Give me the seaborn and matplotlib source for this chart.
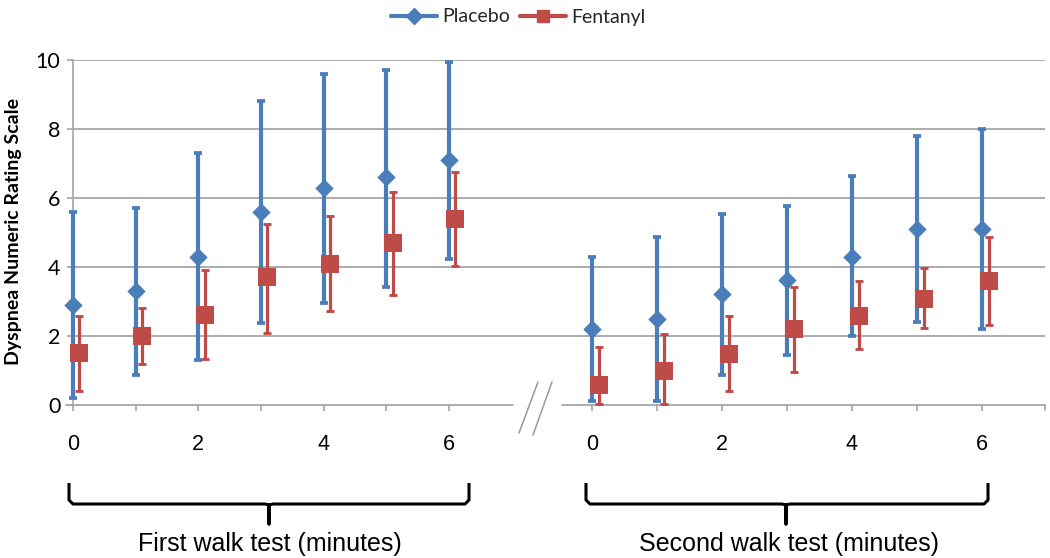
import matplotlib
matplotlib.use("Agg")
import matplotlib.pyplot as plt
import seaborn as sns
import numpy as np
from matplotlib.lines import Line2D

# ---------------- data ----------------
minutes = [0, 1, 2, 3, 4, 5, 6]
tick_labels = ["0", "", "2", "", "4", "", "6"]
y_ticks = [0, 2, 4, 6, 8, 10]
series_names = ["Placebo", "Fentanyl"]
group_labels = ["First walk test (minutes)", "Second walk test (minutes)"]
y_label = "Dyspnea Numeric Rating Scale"

placebo_first_mean = [2.9, 3.3, 4.3, 5.6, 6.3, 6.6, 7.1]
placebo_first_low = [0.2, 0.87, 1.3, 2.37, 2.97, 3.43, 4.23]
placebo_first_high = [5.6, 5.7, 7.3, 8.8, 9.6, 9.72, 9.95]
fentanyl_first_mean = [1.5, 2.0, 2.6, 3.72, 4.1, 4.69, 5.38]
fentanyl_first_low = [0.42, 1.19, 1.32, 2.1, 2.72, 3.19, 4.03]
fentanyl_first_high = [2.58, 2.82, 3.9, 5.26, 5.49, 6.18, 6.74]

placebo_second_mean = [2.2, 2.5, 3.22, 3.62, 4.3, 5.1, 5.1]
placebo_second_low = [0.12, 0.12, 0.87, 1.45, 2.0, 2.42, 2.19]
placebo_second_high = [4.3, 4.86, 5.53, 5.77, 6.64, 7.81, 7.99]
fentanyl_second_mean = [0.58, 0.99, 1.48, 2.19, 2.58, 3.08, 3.6]
fentanyl_second_low = [0.03, 0.03, 0.42, 0.97, 1.61, 2.22, 2.32]
fentanyl_second_high = [1.69, 2.06, 2.58, 3.43, 3.58, 3.96, 4.86]

# ---------------- style ----------------
BLUE = "#4a7ebb"
RED = "#be4b48"
GRID = "#a6a6a6"
FENT_OFFSET = 0.1

sns.set_theme(style="white")
plt.rcParams["font.family"] = ["Liberation Sans", "DejaVu Sans"]

W, H = 1050, 558
fig = plt.figure(figsize=(W / 100, H / 100), dpi=100)

def fx(px):
    return px / W

def fy(py):
    return 1 - py / H

ax_top, ax_bot = 60, 405
axL = fig.add_axes([fx(73), fy(ax_bot), fx(540 - 73), (ax_bot - ax_top) / H])
axR = fig.add_axes([fx(540), fy(ax_bot), fx(1045 - 540), (ax_bot - ax_top) / H])

def draw_series(ax, mean, low, high, color, marker, size, lw, offset, z):
    x = np.array(minutes, dtype=float) + offset
    m = np.array(mean)
    yerr = [m - np.array(low), np.array(high) - m]
    ax.errorbar(x, m, yerr=yerr, fmt="none", ecolor=color, elinewidth=lw,
                capsize=3.2, capthick=lw * 0.9, zorder=z, clip_on=False)
    sns.scatterplot(x=x, y=m, ax=ax, marker=marker, s=size, color=color,
                    linewidth=0, zorder=z + 0.5, clip_on=False, legend=False)

for ax, pm, pl, ph, fm, fl, fh in [
    (axL, placebo_first_mean, placebo_first_low, placebo_first_high,
     fentanyl_first_mean, fentanyl_first_low, fentanyl_first_high),
    (axR, placebo_second_mean, placebo_second_low, placebo_second_high,
     fentanyl_second_mean, fentanyl_second_low, fentanyl_second_high),
]:
    draw_series(ax, pm, pl, ph, BLUE, "D", 88, 3.0, 0.0, 3)
    draw_series(ax, fm, fl, fh, RED, "s", 150, 2.3, FENT_OFFSET, 5)
    ax.set_ylim(0, 10)
    ax.set_yticks(y_ticks)
    for g in y_ticks[1:]:
        ax.axhline(g, color=GRID, lw=1.3, zorder=1)
    for s in ["top", "right", "bottom", "left"]:
        ax.spines[s].set_visible(False)
    ax.set_xticks(minutes)
    ax.set_xticklabels(tick_labels)
    ax.tick_params(axis="x", direction="out", length=4, width=1.2, color=GRID,
                   pad=17, labelsize=15.5, labelcolor="black", bottom=True)
    ax.set_facecolor("none")

# left axes: 0 at 73 px, 62.67 px per minute
axL.set_xlim(0, (540 - 73) / 62.67)
# right axes: 0 at 592 px, 65 px per minute
axR.set_xlim(-(592 - 540) / 65, (1045 - 592) / 65)

# y axis on left panel
axL.spines["left"].set_visible(True)
axL.spines["left"].set_color(GRID)
axL.spines["left"].set_linewidth(1.2)
axL.tick_params(axis="y", direction="out", length=4, width=1.2, color=GRID,
                pad=5, labelsize=15.5, labelcolor="black", left=True)
for lab in axL.get_yticklabels():
    lab.set_family(["Lato", "DejaVu Sans"])
axR.tick_params(axis="y", left=False, labelleft=False)

# broken x axis lines
axL.axhline(0, xmin=-0.015, xmax=(513 - 73) / (540 - 73), color=GRID, lw=1.3,
            clip_on=False, zorder=2)
axR.axhline(0, xmin=(562 - 540) / (1045 - 540), xmax=1.0, color=GRID, lw=1.3,
            clip_on=False, zorder=2)
# end tick on the right axis
fig.add_artist(Line2D([fx(1045), fx(1045)], [fy(405), fy(410)], color=GRID, lw=1.2))

# break marks //
for (x0, y0, x1, y1) in [(538, 382, 519, 433), (552, 382, 533, 435)]:
    fig.add_artist(Line2D([fx(x0), fx(x1)], [fy(y0), fy(y1)], color="#999999", lw=1.1))

# brackets
def bracket(xl, xr, xm, ytop=483, ymid=504, ybot=524):
    r = 4
    xs = [xl, xl, xl + r, xm - r, xm, xm, xm, xm + r, xr - r, xr, xr]
    ys = [ytop, ymid - r, ymid, ymid, ymid + 1, ybot, ymid + 1, ymid, ymid, ymid - r, ytop]
    fig.add_artist(Line2D([fx(v) for v in xs], [fy(v) for v in ys], color="black",
                          lw=2.2, solid_joinstyle="round", solid_capstyle="butt"))

bracket(69, 469, 269)
bracket(586, 988, 786)

fig.text(fx(270), fy(544), group_labels[0], ha="center", va="center", fontsize=18,
         color="black")
fig.text(fx(789), fy(544), group_labels[1], ha="center", va="center", fontsize=18,
         color="black")

# y label
fig.text(fx(14), fy(232), y_label, rotation=90, ha="center", va="center",
         fontsize=14, fontweight="bold", family=["Lato", "DejaVu Sans"], color="black")

# legend
handles = [
    Line2D([0], [0], color=BLUE, lw=3.0, marker="D", ms=8, mec=BLUE, mfc=BLUE),
    Line2D([0], [0], color=RED, lw=3.0, marker="s", ms=9, mec=RED, mfc=RED),
]
fig.legend(handles, series_names, loc="center", bbox_to_anchor=(fx(518), fy(17)),
           ncol=2, frameon=False, handlelength=2.4, handletextpad=0.25,
           columnspacing=0.5, prop={"family": ["Lato", "DejaVu Sans"], "size": 14})

fig.savefig("out.png", dpi=100)
